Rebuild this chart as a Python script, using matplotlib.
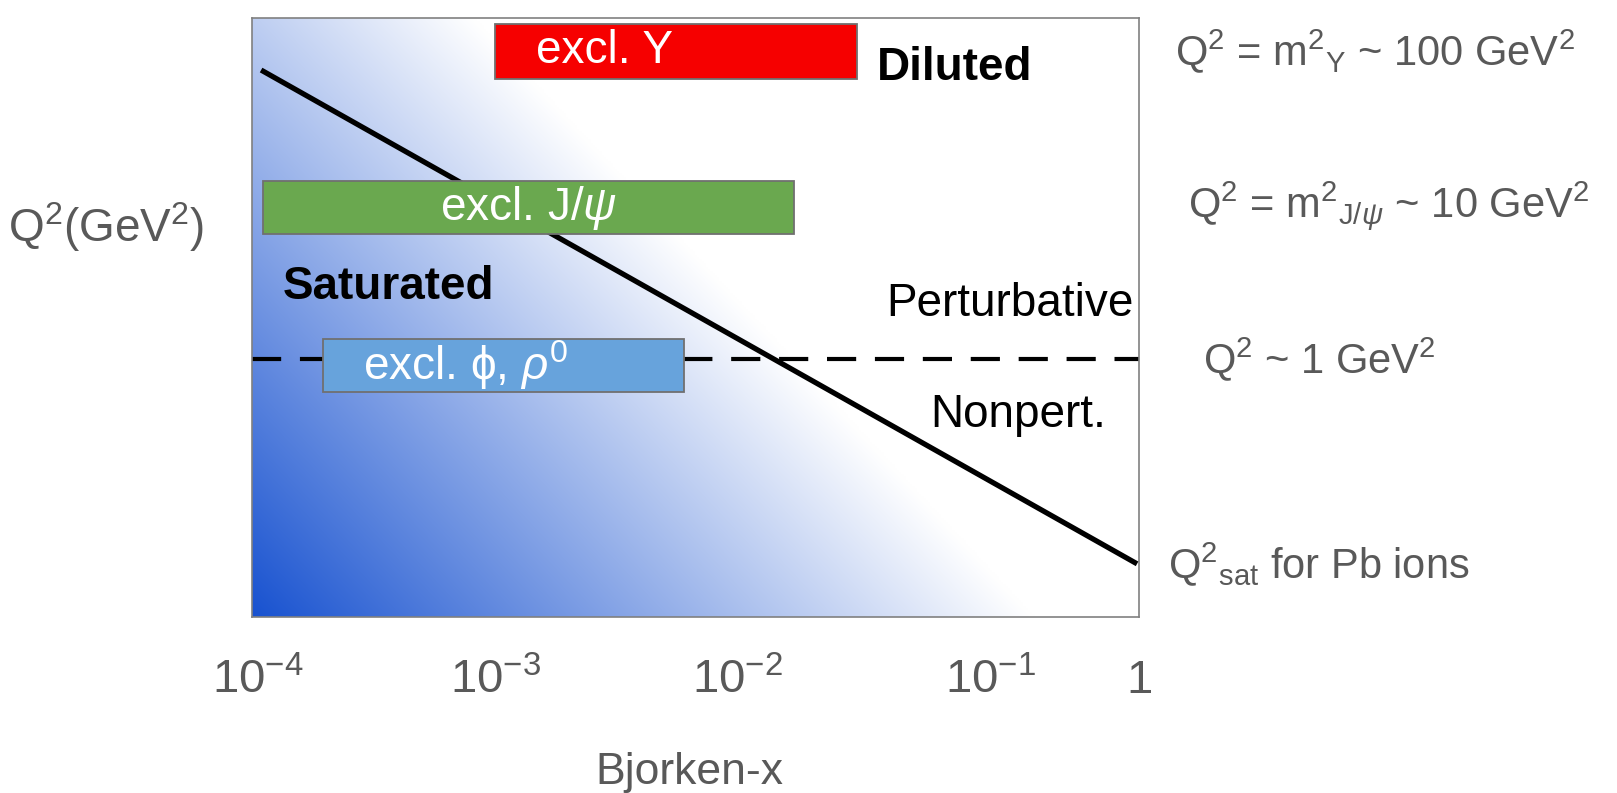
import numpy as np
import matplotlib
matplotlib.use('Agg')
import matplotlib.pyplot as plt

plt.rcParams['font.family'] = ['Liberation Sans', 'DejaVu Sans']
plt.rcParams['mathtext.fontset'] = 'custom'
plt.rcParams['mathtext.rm'] = 'Liberation Sans'
plt.rcParams['mathtext.it'] = 'Liberation Sans:italic'
plt.rcParams['mathtext.bf'] = 'Liberation Sans:bold'

# exclusive vector meson regions (Bjorken-x range, Q^2 range in GeV^2)
meson_labels = ['excl. Υ', r'excl. J/$\psi$', r'excl. ϕ, $\rho^0$']
meson_x_lo = [1.25e-3, 1.12e-4, 2.09e-4]
meson_x_hi = [0.0535, 0.0278, 8.87e-3]
meson_q2_lo = [65.8, 6.48, 0.61]
meson_q2_hi = [150.0, 14.3, 1.35]
meson_colors = ['#f60000', '#6aa84f', '#67a3dc']

# saturation scale for Pb ions
qsat_x = [1.10e-4, 0.98]
qsat_q2 = [75.3, 0.0467]

# perturbative boundary
q2_pert = 1.0

# x tick labels as placed on the sketch
tick_x = [1.06e-4, 1.25e-3, 1.54e-2, 0.213, 1.0]
tick_labels = [r'10$^{-4}$', r'10$^{-3}$', r'10$^{-2}$', r'10$^{-1}$', '1']

# scale annotations on the right
scale_q2 = [100.0, 10.0, 1.0, 0.0467]
scale_labels = [r'Q$^2$ = m$^2$$_{\Upsilon}$ ~ 100 GeV$^2$',
                r'Q$^2$ = m$^2$$_{\mathrm{J/}\psi}$ ~ 10 GeV$^2$',
                r'Q$^2$ ~ 1 GeV$^2$',
                r'Q$^2$$_{\mathrm{sat}}$ for Pb ions']
scale_xpos = [1.041, 1.055, 1.072, 1.033]

gray = '#595959'

fig = plt.figure(figsize=(16.17, 7.93), dpi=100)
ax = fig.add_axes([0.1558, 0.222, 0.5486, 0.7553])
ax.set_xscale('log')
ax.set_yscale('log')
ax.set_xlim(1e-4, 1)
ax.set_ylim(0.0211, 164)

# diagonal blue -> white background
u, v = np.meshgrid(np.linspace(0, 1, 400), np.linspace(0, 1, 300))
t = np.clip((u + 0.63 * v) / 0.88, 0, 1)
blue = np.array([24, 82, 208]) / 255.0
img = blue * (1 - t[..., None]) + 1.0 * t[..., None]
ax.imshow(img, origin='lower', extent=[0, 1, 0, 1], transform=ax.transAxes,
          aspect='auto', zorder=0, interpolation='bilinear')

ax.axhline(q2_pert, color='black', lw=3.0, dashes=(7, 4.5), zorder=2)
ax.plot(qsat_x, qsat_q2, color='black', lw=3.8, solid_capstyle='butt', zorder=3)

for x0, x1, y0, y1, c in zip(meson_x_lo, meson_x_hi, meson_q2_lo, meson_q2_hi, meson_colors):
    ax.barh(y0, x1 - x0, height=y1 - y0, left=x0, align='edge',
            color=c, edgecolor='#707070', linewidth=1.3, zorder=4)

# labels in the boxes
ax.text(1.91e-3, 100, meson_labels[0], color='white', fontsize=33,
        ha='left', va='center', zorder=5)
ax.text(np.sqrt(meson_x_lo[1] * meson_x_hi[1]), np.sqrt(meson_q2_lo[1] * meson_q2_hi[1]),
        meson_labels[1], color='white', fontsize=33, ha='center', va='center', zorder=5)
ax.text(3.17e-4, np.sqrt(meson_q2_lo[2] * meson_q2_hi[2]), meson_labels[2],
        color='white', fontsize=33, ha='left', va='center', zorder=5)

# region labels
ax.text(0.705, 0.916, 'Diluted', transform=ax.transAxes, fontsize=33,
        fontweight='bold', ha='left', va='center')
ax.text(0.035, 0.551, 'Saturated', transform=ax.transAxes, fontsize=33,
        fontweight='bold', ha='left', va='center')
ax.text(0.994, 0.523, 'Perturbative', transform=ax.transAxes, fontsize=33,
        ha='right', va='center')
ax.text(0.765, 0.338, 'Nonpert.', transform=ax.transAxes, fontsize=33,
        ha='left', va='center')

for q2, lab, xp in zip(scale_q2, scale_labels, scale_xpos):
    ax.text(xp, q2, lab, transform=ax.get_yaxis_transform(), fontsize=30,
            color=gray, ha='left', va='center', clip_on=False)

ax.set_xticks(tick_x)
ax.set_xticklabels(tick_labels)
ax.xaxis.set_minor_locator(matplotlib.ticker.NullLocator())
ax.set_yticks([])
ax.yaxis.set_minor_locator(matplotlib.ticker.NullLocator())
ax.tick_params(axis='x', length=0, pad=30, labelsize=34, labelcolor=gray)

ax.set_xlabel('Bjorken-x', fontsize=32, color=gray, va='center')
ax.xaxis.set_label_coords(0.493, -0.26)
ax.set_ylabel(r'Q$^2$(GeV$^2$)', fontsize=33, color=gray, rotation=0,
              ha='left', va='center')
ax.yaxis.set_label_coords(-0.275, 0.651)

for s in ax.spines.values():
    s.set_color('#808080')
    s.set_linewidth(1.2)

fig.savefig('out.png', dpi=100)
